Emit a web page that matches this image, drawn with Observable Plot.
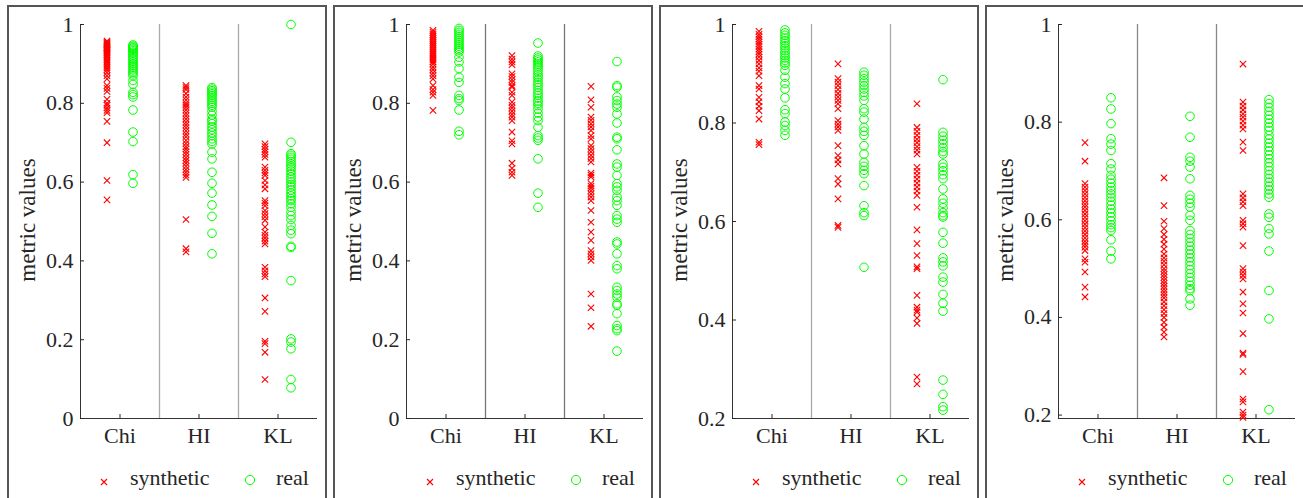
<!DOCTYPE html>
<html><head><meta charset="utf-8">
<script src="https://cdn.jsdelivr.net/npm/d3@7"></script>
<script src="https://cdn.jsdelivr.net/npm/@observablehq/plot@0.6"></script>
<style>
body{margin:0;background:#fff;width:1303px;height:498px;overflow:hidden;position:relative;font-family:"Liberation Serif","Times New Roman",serif;color:#262626;}
.box{position:absolute;top:5px;width:320px;height:510px;box-sizing:border-box;border:2px solid #555;}
.plot{position:absolute;top:0;}
.leg{position:absolute;top:466px;font-size:22px;line-height:24px;}
.legsym{position:absolute;}
.ylab{position:absolute;top:208px;width:200px;height:24px;margin-left:-100px;text-align:center;font-size:23px;line-height:24px;transform:rotate(-90deg);white-space:nowrap;}
</style>
</head><body>
<script>
const categories = ["Chi", "HI", "KL"];
const seriesNames = ["synthetic", "real"];
const yLabel = "metric values";
const ticksFrom0 = [0, 0.2, 0.4, 0.6, 0.8, 1];
const ticksFrom02 = [0.2, 0.4, 0.6, 0.8, 1];

// Panel 1
const p1SynChi = [0.958,0.955,0.952,0.950,0.948,0.945,0.942,0.940,0.937,0.935,0.932,0.930,0.927,0.924,0.92,0.915,0.91,0.905,0.90,0.895,0.89,0.885,0.878,0.87,0.862,0.845,0.838,0.83,0.81,0.80,0.795,0.788,0.782,0.776,0.754,0.700,0.604,0.555];
const p1RealChi = [0.948,0.945,0.942,0.94,0.937,0.934,0.93,0.926,0.922,0.918,0.914,0.91,0.905,0.90,0.895,0.89,0.885,0.88,0.875,0.87,0.858,0.848,0.828,0.822,0.816,0.783,0.727,0.703,0.619,0.597];
const p1SynHI = [0.845,0.840,0.835,0.825,0.816,0.808,0.80,0.795,0.79,0.783,0.775,0.768,0.76,0.752,0.745,0.738,0.73,0.722,0.715,0.706,0.698,0.69,0.684,0.677,0.67,0.662,0.655,0.648,0.64,0.632,0.625,0.618,0.612,0.505,0.431,0.423];
const p1RealHI = [0.84,0.836,0.832,0.828,0.824,0.82,0.815,0.81,0.805,0.80,0.795,0.79,0.78,0.77,0.76,0.755,0.748,0.74,0.733,0.725,0.718,0.71,0.703,0.697,0.676,0.659,0.625,0.597,0.572,0.542,0.513,0.47,0.418];
const p1SynKL = [0.697,0.69,0.683,0.677,0.67,0.663,0.638,0.63,0.623,0.617,0.604,0.593,0.583,0.553,0.547,0.54,0.528,0.52,0.512,0.503,0.486,0.473,0.465,0.458,0.45,0.443,0.384,0.375,0.367,0.36,0.306,0.272,0.196,0.19,0.168,0.099];
const p1RealKL = [1.0,0.701,0.672,0.668,0.663,0.658,0.652,0.646,0.64,0.635,0.628,0.621,0.613,0.607,0.6,0.594,0.588,0.58,0.572,0.565,0.558,0.553,0.545,0.536,0.525,0.515,0.505,0.49,0.478,0.469,0.437,0.434,0.35,0.202,0.194,0.177,0.099,0.078];

// Panel 2
const p2SynChi = [0.985,0.98,0.975,0.97,0.965,0.96,0.955,0.95,0.945,0.94,0.935,0.93,0.925,0.92,0.915,0.91,0.905,0.90,0.892,0.885,0.877,0.87,0.862,0.845,0.835,0.828,0.82,0.782];
const p2RealChi = [0.99,0.985,0.98,0.975,0.97,0.965,0.96,0.955,0.95,0.945,0.94,0.935,0.93,0.917,0.905,0.888,0.866,0.853,0.82,0.812,0.807,0.783,0.729,0.72];
const p2SynHI = [0.921,0.912,0.905,0.898,0.875,0.868,0.86,0.853,0.845,0.841,0.828,0.82,0.803,0.795,0.788,0.78,0.772,0.765,0.756,0.727,0.705,0.697,0.648,0.635,0.625,0.617];
const p2RealHI = [0.953,0.92,0.915,0.91,0.905,0.9,0.895,0.89,0.884,0.878,0.872,0.866,0.86,0.853,0.847,0.84,0.833,0.826,0.82,0.813,0.806,0.8,0.794,0.785,0.775,0.765,0.756,0.739,0.718,0.712,0.706,0.659,0.572,0.536];
const p2SynKL = [0.843,0.809,0.79,0.765,0.757,0.748,0.74,0.731,0.718,0.71,0.693,0.685,0.677,0.668,0.66,0.651,0.623,0.618,0.613,0.596,0.59,0.585,0.578,0.57,0.562,0.553,0.528,0.498,0.473,0.452,0.426,0.418,0.41,0.401,0.316,0.281,0.234];
const p2RealKL = [0.906,0.845,0.841,0.816,0.807,0.798,0.79,0.773,0.75,0.714,0.71,0.682,0.646,0.638,0.617,0.596,0.588,0.579,0.562,0.553,0.541,0.515,0.506,0.498,0.448,0.443,0.418,0.388,0.38,0.333,0.325,0.316,0.308,0.291,0.287,0.266,0.236,0.228,0.223,0.171];

// Panel 3
const p3SynChi = [0.986,0.98,0.975,0.97,0.965,0.96,0.955,0.95,0.945,0.94,0.934,0.927,0.92,0.912,0.905,0.896,0.876,0.869,0.852,0.843,0.834,0.825,0.808,0.761,0.756];
const p3RealChi = [0.989,0.983,0.978,0.972,0.967,0.962,0.957,0.952,0.947,0.942,0.937,0.932,0.927,0.922,0.917,0.907,0.893,0.88,0.869,0.851,0.827,0.819,0.802,0.795,0.785,0.775];
const p3SynHI = [0.92,0.89,0.883,0.876,0.868,0.86,0.853,0.846,0.839,0.829,0.805,0.798,0.792,0.785,0.754,0.734,0.725,0.717,0.687,0.676,0.646,0.592,0.588];
const p3RealHI = [0.903,0.897,0.89,0.883,0.876,0.869,0.862,0.855,0.846,0.829,0.822,0.808,0.791,0.783,0.775,0.754,0.737,0.72,0.712,0.704,0.697,0.673,0.632,0.618,0.612,0.507];
const p3SynKL = [0.839,0.791,0.783,0.775,0.767,0.76,0.752,0.745,0.737,0.71,0.702,0.694,0.686,0.678,0.67,0.662,0.653,0.629,0.583,0.555,0.531,0.508,0.504,0.45,0.426,0.42,0.416,0.404,0.393,0.284,0.27];
const p3RealKL = [0.888,0.781,0.773,0.765,0.758,0.75,0.742,0.737,0.717,0.71,0.703,0.695,0.687,0.666,0.646,0.637,0.628,0.618,0.612,0.609,0.578,0.556,0.526,0.518,0.51,0.487,0.477,0.452,0.434,0.418,0.278,0.249,0.224,0.217];

// Panel 4
const p4SynChi = [0.758,0.72,0.674,0.667,0.66,0.653,0.646,0.639,0.632,0.626,0.619,0.612,0.605,0.598,0.591,0.584,0.577,0.57,0.563,0.556,0.55,0.544,0.537,0.52,0.513,0.493,0.462,0.442];
const p4RealChi = [0.85,0.827,0.797,0.766,0.755,0.742,0.715,0.704,0.691,0.683,0.675,0.667,0.66,0.653,0.646,0.638,0.63,0.622,0.614,0.606,0.598,0.59,0.584,0.578,0.559,0.536,0.52];
const p4SynHI = [0.686,0.629,0.597,0.582,0.57,0.56,0.55,0.54,0.53,0.522,0.515,0.508,0.5,0.494,0.488,0.482,0.476,0.47,0.464,0.458,0.452,0.446,0.44,0.432,0.424,0.416,0.408,0.4,0.39,0.38,0.37,0.36];
const p4RealHI = [0.812,0.769,0.728,0.72,0.708,0.684,0.65,0.642,0.634,0.626,0.609,0.599,0.578,0.57,0.562,0.554,0.546,0.538,0.53,0.522,0.514,0.506,0.498,0.49,0.482,0.474,0.466,0.459,0.455,0.438,0.425];
const p4SynKL = [0.919,0.841,0.833,0.825,0.817,0.81,0.802,0.794,0.786,0.759,0.742,0.653,0.645,0.637,0.629,0.599,0.592,0.585,0.547,0.5,0.493,0.486,0.479,0.452,0.428,0.409,0.367,0.327,0.324,0.289,0.233,0.227,0.206,0.2,0.195];
const p4RealKL = [0.846,0.838,0.83,0.822,0.814,0.806,0.798,0.79,0.783,0.773,0.765,0.757,0.749,0.741,0.733,0.725,0.717,0.709,0.701,0.693,0.685,0.677,0.669,0.661,0.653,0.646,0.612,0.605,0.582,0.571,0.536,0.455,0.397,0.211];

const panels = [
  {left: 7,   yDomain: [0, 1],     yTicks: ticksFrom0,  div: "#aaa", syn: [p1SynChi, p1SynHI, p1SynKL], real: [p1RealChi, p1RealHI, p1RealKL]},
  {left: 333, yDomain: [0, 1],     yTicks: ticksFrom0,  div: "#777", syn: [p2SynChi, p2SynHI, p2SynKL], real: [p2RealChi, p2RealHI, p2RealKL]},
  {left: 659, yDomain: [0.2, 1],   yTicks: ticksFrom02, div: "#aaa", syn: [p3SynChi, p3SynHI, p3SynKL], real: [p3RealChi, p3RealHI, p3RealKL]},
  {left: 985, yDomain: [0.193, 1], yTicks: ticksFrom02, div: "#888", syn: [p4SynChi, p4SynHI, p4SynKL], real: [p4RealChi, p4RealHI, p4RealKL]}
];

const toRows = (arrs) => arrs.flatMap((vals, i) => vals.map(v => ({cat: categories[i], xi: i + 1, v})));
const catIdx = categories.map((c, i) => i + 1);
const dividers = d3.range(1, categories.length).map(i => i + 0.5);
const xDomain = [0.5, categories.length + 0.5];
const fmt = d3.format("~g");

for (const p of panels) {
  const box = document.createElement("div");
  box.className = "box";
  box.style.left = p.left + "px";
  document.body.appendChild(box);

  const chart = Plot.plot({
    width: 320, height: 450,
    marginLeft: 73, marginRight: 10, marginTop: 24, marginBottom: 32,
    style: {fontFamily: "Liberation Serif, Times New Roman, serif", fontSize: "22px", color: "#262626", background: "transparent", overflow: "visible"},
    x: {domain: xDomain},
    y: {domain: p.yDomain},
    marks: [
      Plot.ruleX(dividers, {stroke: p.div, strokeWidth: 1.3}),
      Plot.ruleX([xDomain[0]], {stroke: "#333", strokeWidth: 1}),
      Plot.ruleY([p.yDomain[0]], {stroke: "#333", strokeWidth: 1}),
      Plot.axisY(p.yTicks, {tickSize: -4, tickPadding: 11, tickFormat: fmt, label: null}),
      Plot.axisX(catIdx, {tickSize: -4, tickPadding: 13, tickFormat: i => categories[i - 1], label: null}),
      Plot.dot(toRows(p.syn), {x: "xi", y: "v", dx: -13, symbol: "times", r: 3, stroke: "#ff0000", strokeWidth: 1.1}),
      Plot.dot(toRows(p.real), {x: "xi", y: "v", dx: 13, symbol: "circle", r: 4.3, stroke: "#00ff00", fill: "none", strokeWidth: 1})
    ]
  });
  chart.classList.add("plot");
  chart.style.left = p.left + "px";
  document.body.appendChild(chart);

  const mk = (cls, html, left, top) => {
    const el = document.createElement("div");
    el.className = cls; el.innerHTML = html;
    el.style.left = left + "px"; if (top != null) el.style.top = top + "px";
    document.body.appendChild(el);
  };
  // y-axis title
  mk("ylab", yLabel, p.left + 21);
  // legend
  mk("legsym", '<svg width="10" height="10"><path d="M2,2L8,8M8,2L2,8" stroke="#ff0000" stroke-width="1.1"/></svg>', p.left + 92, 473);
  mk("leg", seriesNames[0], p.left + 123);
  mk("legsym", '<svg width="12" height="12"><circle cx="6" cy="6" r="4.6" stroke="#00ff00" fill="none" stroke-width="1"/></svg>', p.left + 237, 472);
  mk("leg", seriesNames[1], p.left + 269);
}
</script>
</body></html>
